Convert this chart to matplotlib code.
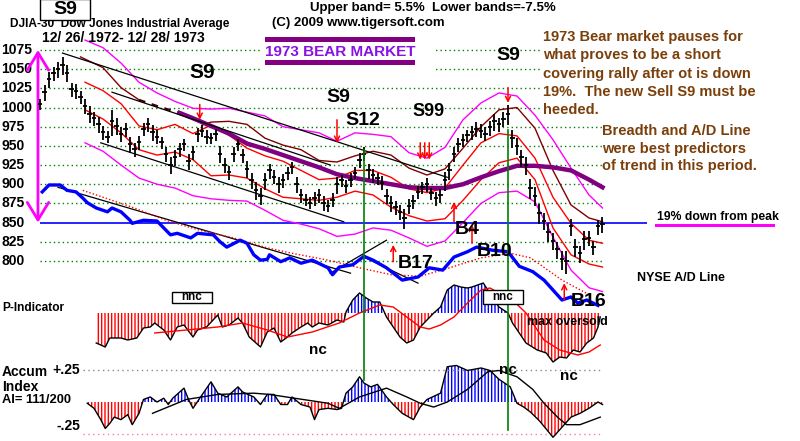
import numpy as np
import matplotlib.pyplot as plt
from matplotlib.patches import Rectangle
from matplotlib.lines import Line2D
from matplotlib.transforms import blended_transform_factory

plt.rcParams['font.family'] = ['Liberation Sans', 'DejaVu Sans']
plt.rcParams['hatch.linewidth'] = 1.0

# ---------------- data ----------------
# daily-ish price bars (every 2nd trading day), DJIA 12/26/1972 - 12/28/1973
bar_day = np.arange(0, 251, 2)
bar_close = [1005, 1020, 1037, 1045, 1050, 1055, 1045, 1024, 1022, 1014,
             1002, 992, 986, 978, 968, 962, 982, 976, 966, 972,
             952, 946, 955, 972, 978, 968, 962, 955, 940, 925,
             935, 946, 952, 930, 942, 965, 970, 962, 960, 965,
             940, 925, 916, 940, 952, 938, 920, 905, 892, 885,
             905, 918, 910, 900, 905, 915, 922, 900, 886, 880,
             876, 882, 886, 876, 872, 880, 900, 905, 898, 906,
             915, 932, 940, 918, 912, 908, 902, 885, 875, 870,
             864, 856, 872, 878, 890, 896, 900, 888, 882, 886,
             905, 918, 940, 952, 958, 964, 968, 972, 970, 966,
             974, 982, 978, 985, 992, 960, 950, 935, 925, 895,
             885, 862, 852, 838, 826, 815, 802, 800, 845, 818,
             810, 828, 830, 818, 845, 848]
bar_rng = [14, 20, 22, 18, 20, 24, 22, 18, 20, 18,
           20, 22, 18, 20, 18, 16, 34, 22, 20, 18,
           20, 18, 18, 16, 18, 20, 18, 16, 20, 22,
           20, 18, 16, 22, 18, 18, 16, 18, 14, 16,
           22, 20, 18, 20, 16, 18, 22, 20, 24, 22,
           22, 20, 18, 20, 18, 18, 16, 20, 18, 16,
           16, 18, 18, 20, 16, 18, 22, 16, 18, 18,
           16, 20, 18, 20, 18, 16, 18, 20, 20, 18,
           20, 26, 20, 18, 18, 16, 18, 16, 18, 18,
           24, 22, 20, 18, 18, 16, 18, 20, 18, 18,
           20, 22, 18, 20, 26, 24, 22, 22, 24, 26,
           24, 26, 22, 24, 22, 22, 24, 30, 22, 24,
           22, 24, 20, 18, 20, 22]

band_day = [20, 28, 36, 44, 52, 60, 68, 76, 84, 92, 100, 108, 116, 124, 132,
            140, 148, 156, 164, 172, 180, 188, 196, 204, 212, 220, 228, 236, 244, 250]
mag_up = [1088, 1078, 1058, 1033, 1019, 1008, 999, 998, 999, 994, 989, 975, 971, 967, 956,
          967, 965, 962, 941, 934, 948, 984, 1006, 1019, 1015, 990, 958, 921, 886, 869]
red_up = [1033, 1022, 1005, 976, 971, 978, 966, 977, 964, 947, 937, 930, 918, 906, 908,
          918, 918, 909, 894, 889, 895, 925, 954, 966, 963, 934, 883, 849, 827, 823]
red_lo = [997, 985, 967, 945, 938, 942, 932, 911, 912, 908, 894, 883, 881, 879, 883,
          891, 886, 870, 859, 852, 855, 879, 906, 928, 934, 906, 843, 808, 796, 792]
mag_lo = [954, 943, 925, 908, 900, 895, 885, 881, 879, 878, 866, 853, 848, 842, 832,
          835, 843, 840, 830, 819, 826, 850, 875, 889, 891, 877, 831, 788, 765, 760]

mar_day = [72, 76, 84, 92, 100, 108, 116, 124, 132, 140, 148, 156, 164, 172, 180,
           188, 196, 204, 212, 220, 228, 236, 244, 250]
mar_val = [977, 981, 982, 978, 960, 951, 945, 931, 929, 937, 943, 938, 921, 912, 920,
           947, 975, 997, 1000, 973, 918, 873, 856, 851]

ma_early_day = [18, 28, 36, 44]
ma_early = [1066, 1052, 1026, 1010]
ma_gap_day = [44, 53, 62]
ma_gap = [1010, 1001, 993]
ma_day = [62, 68, 76, 84, 92, 100, 108, 116, 124, 132, 140, 148, 156, 164, 172,
          180, 188, 196, 204, 212, 220, 228, 236, 244, 250]
ma_val = [993, 986, 976, 966, 953, 946, 938, 930, 922, 913, 908, 904, 900, 896, 895,
          895, 900, 909, 917, 924, 924, 922, 918, 906, 896]

# NYSE A/D line (plotted on the price scale) and its dotted average
ad_day = [1, 4, 9, 12, 16, 19, 21, 25, 30, 32, 36, 40, 41, 46, 52, 58, 61, 67, 70, 77,
          80, 83, 89, 92, 95, 98, 101, 102, 107, 111, 116, 121, 128, 130, 133, 139, 144, 148, 154, 161,
          168, 173, 179, 184, 190, 194, 201, 208, 213, 219, 224, 228, 232, 236, 239, 243, 248]
ad_val = [890, 899, 899, 892, 890, 882, 876, 869, 864, 869, 864, 853, 849, 853, 852, 834, 836, 830, 836, 834,
          825, 818, 827, 823, 808, 801, 802, 808, 799, 804, 797, 801, 791, 782, 792, 795, 806, 801, 791, 775,
          779, 791, 788, 805, 812, 818, 814, 812, 793, 786, 775, 762, 749, 753, 745, 749, 742]
ad_ma_day = [19, 41, 56, 71, 86, 101, 112, 128, 142, 156, 169, 182, 196, 209, 218, 232, 244]
ad_ma = [892, 870, 853, 840, 830, 817, 810, 801, 791, 782, 780, 791, 804, 810, 804, 775, 756]

trend_days = [(10, 181), (32, 129), (27, 135), (8, 138), (129, 154), (144, 168)]
trend_vals = [(1071, 909), (1020, 925), (954, 851), (896, 784), (784, 827), (805, 771)]

# signal arrows: day, tail value, tip value
sig_day = [71, 132, 169, 171, 173, 208, 157, 184, 192, 233]
sig_tail = [1004, 984, 954, 954, 954, 1026, 799, 851, 823, 749]
sig_tip = [984, 954, 932, 932, 932, 1006, 821, 877, 847, 771]
vline_day = [144, 208]

# P-Indicator
p_day = [25, 29, 31, 36, 39, 43, 46, 49, 51, 55, 58, 61, 64, 68, 70, 74, 79, 81, 84, 88,
         90, 93, 98, 101, 104, 107, 110, 112, 116, 119, 121, 124, 128, 132, 135, 136, 139, 142, 145, 148,
         151, 154, 157, 160, 163, 166, 169, 172, 175, 178, 181, 184, 187, 190, 192, 197, 201, 204, 208, 210,
         213, 216, 221, 225, 228, 231, 234, 237, 240, 243, 246, 248, 249]
p_val = [-300, -340, -250, -250, -270, -250, -150, -140, -100, -170, -270, -140, -120, -240, -170, -140, -20, -140, -120, -50,
         -100, -240, -340, -190, -150, -290, -240, -200, -140, -100, -140, -100, -120, -70, -90, 10, 130, 200, 150, 110,
         110, -40, -140, -240, -300, -270, -140, -70, 0, 60, 230, 280, 260, 250, 260, 300, 160, 60, 0, -100,
         -200, -300, -370, -400, -490, -440, -450, -370, -390, -300, -250, -140, -40]
p_ma_day = [51, 65, 79, 90, 101, 110, 121, 133, 142, 151, 157, 163, 169, 173, 178, 184, 190, 196, 200, 204,
            210, 216, 224, 231, 239, 244, 249]
p_ma = [-200, -170, -140, -100, -170, -240, -190, -100, 0, 80, 60, -40, -140, -160, -120, -40, 100, 230, 250, 200,
        130, 0, -270, -370, -420, -390, -320]

# Accumulation Index
a_day = [21, 24, 27, 29, 31, 33, 36, 39, 41, 44, 46, 49, 52, 55, 57, 59, 64, 66, 68, 71,
         76, 79, 83, 88, 90, 95, 98, 101, 104, 107, 110, 112, 116, 120, 122, 124, 128, 132, 134, 136,
         139, 142, 144, 147, 150, 154, 157, 161, 166, 169, 172, 178, 181, 185, 190, 196, 200, 204, 209, 212,
         215, 218, 222, 228, 232, 236, 240, 244, 248, 250]
a_val = [-0.01, -0.05, -0.14, -0.21, -0.17, -0.12, -0.14, -0.10, -0.18, -0.09, 0.02, 0.04, 0.0, 0.03, -0.02, 0.03, 0.11, 0.02, -0.05, 0.03,
         0.16, 0.07, 0.04, 0.12, 0.08, 0.04, -0.02, 0.06, 0.06, -0.02, -0.02, 0.04, -0.02, -0.04, -0.14, -0.06, -0.05, -0.06, -0.05, 0.07,
         0.12, 0.20, 0.15, 0.12, 0.14, 0.04, -0.02, -0.09, -0.14, -0.04, 0.02, 0.07, 0.28, 0.29, 0.25, 0.27, 0.25, 0.18, 0.12, -0.01,
         -0.04, -0.08, -0.15, -0.28, -0.20, -0.12, -0.09, -0.05, 0.0, -0.02]
a_ma_day = [50, 65, 79, 95, 102, 128, 133, 142, 154, 163, 169, 175, 181, 190, 199, 204, 212, 219, 224, 230, 234, 240, 249]
a_ma = [-0.09, 0.02, 0.06, 0.07, 0.06, -0.01, -0.05, 0.04, 0.11, 0.04, -0.01, -0.04, 0.0, 0.10, 0.24, 0.25, 0.20, 0.10, -0.01, -0.12, -0.18, -0.18, -0.12]

price_ticks = [1075, 1050, 1025, 1000, 975, 950, 925, 900, 875, 850, 825, 800]

# ---------------- figure ----------------
W, H = 800, 441
fig = plt.figure(figsize=(8, 4.41), dpi=100)


def fx(px):
    return px / W


def fy(py):
    return 1 - py / H


def txt(px, py, s, size=10, color='black', ha='left', weight='bold', z=3):
    fig.text(fx(px), fy(py), s, fontsize=size, color=color, ha=ha, va='center',
             fontweight=weight, zorder=z)


def rect(x0, y0, x1, y1, fc, ec='none', lw=1, z=1):
    fig.add_artist(Rectangle((fx(x0), fy(y1)), (x1 - x0) / W, (y1 - y0) / H,
                             transform=fig.transFigure, fc=fc, ec=ec, lw=lw, zorder=z))


xl = (-17.78, 337.78)

# price panel
ax = fig.add_axes([0, fy(310), 1, 310 / H])
ax.set_xlim(*xl)
ax.set_ylim(736.0, 1140.2)
ax.axis('off')

for lev in price_ticks:
    ax.text(-17.3, lev, str(lev), fontsize=10, fontweight='bold', va='center', ha='left')
    if lev == 850:
        continue
    ax.hlines(lev, 0, 223 if lev >= 1000 else 250, colors='#008000', lw=1, linestyles=(0, (1, 2.2)))
ax.hlines(850, 0, 270, colors='blue', lw=1.2)

ax.annotate('', xy=(-0.9, 1075), xytext=(-0.9, 850),
            arrowprops=dict(arrowstyle='<->,head_length=0.9,head_width=0.55', color='#ff00ff',
                            lw=2, shrinkA=0, shrinkB=0, mutation_scale=14))

close = np.array(bar_close, dtype=float)
rng = np.array(bar_rng, dtype=float)
ax.vlines(bar_day, close - rng * 0.55, close + rng * 0.45, color='black', lw=1.3, zorder=4)
ax.hlines(close, bar_day - 0.9, bar_day + 0.9, color='black', lw=1.3, zorder=4)

ax.plot(band_day, mag_up, color='#ff00ff', lw=1)
ax.plot(band_day, mag_lo, color='#ff00ff', lw=1)
ax.plot(band_day, red_up, color='red', lw=1)
ax.plot(band_day, red_lo, color='red', lw=1)
ax.plot(mar_day, mar_val, color='#800000', lw=1)
ax.plot(ma_early_day, ma_early, color='#800000', lw=1)
ax.plot(ma_gap_day, ma_gap, color='#400000', lw=1.6, ls=(0, (3, 3)))
ax.plot(ma_day, ma_val, color='#800080', lw=3.2)

for (d0, d1), (v0, v1) in zip(trend_days, trend_vals):
    ax.plot([d0, d1], [v0, v1], color='black', lw=0.9)

ax.plot(ad_ma_day, ad_ma, color='red', lw=1, ls=(0, (1, 1.5)))
ax.plot(ad_day, ad_val, color='blue', lw=2.4)

for d, t, h in zip(sig_day, sig_tail, sig_tip):
    ax.annotate('', xy=(d, h), xytext=(d, t),
                arrowprops=dict(arrowstyle='->', color='red', lw=1.1, shrinkA=0, shrinkB=0,
                                mutation_scale=9))

# P-Indicator panel
axp = fig.add_axes([0, fy(370), 1, 100 / H])
axp.set_xlim(*xl)
axp.set_ylim(-570, 430)
axp.axis('off')
pd_ = np.array(p_day, dtype=float)
pv = np.array(p_val, dtype=float)
axp.fill_between(pd_, 0, pv, where=pv <= 0, interpolate=True, facecolor='none',
                 edgecolor='red', hatch='|||||', lw=0)
axp.fill_between(pd_, 0, pv, where=pv >= 0, interpolate=True, facecolor='none',
                 edgecolor='blue', hatch='|||||', lw=0)
axp.plot(pd_, pv, color='black', lw=1)
axp.plot(p_ma_day, p_ma, color='red', lw=1)

# Accumulation index panel
axa = fig.add_axes([0, 0, 1, 101 / H])
axa.set_xlim(*xl)
axa.set_ylim(-0.3095, 0.492)
axa.axis('off')
axa.hlines(0.25, 19, 249, colors='#888888', lw=1, linestyles=(0, (1, 2.5)))
axa.hlines(-0.25, 19, 249, colors='#ff7799', lw=1, linestyles=(0, (1, 2.5)))
ad_ = np.array(a_day, dtype=float)
av = np.array(a_val)
axa.fill_between(ad_, 0, av, where=av <= 0, interpolate=True, facecolor='none',
                 edgecolor='red', hatch='|||||', lw=0)
axa.fill_between(ad_, 0, av, where=av >= 0, interpolate=True, facecolor='none',
                 edgecolor='blue', hatch='|||||', lw=0)
axa.plot(ad_, av, color='black', lw=1)
axa.plot(a_ma_day, a_ma, color='black', lw=1)

# green signal verticals spanning the panels
bt = blended_transform_factory(ax.transData, fig.transFigure)
for d, (y0, y1) in zip(vline_day, [(150, 380), (130, 430)]):
    fig.add_artist(Line2D([d, d], [fy(y0), fy(y1)], transform=bt, color='#008000', lw=1.2, zorder=2))

# ---------------- boxes and text ----------------
txt(10, 24, 'DJIA-30  Dow Jones Industrial Average', size=8.6)
rect(40, -1, 90, 20, 'white', 'black', 1, z=4)
txt(65, 10, 'S9', size=14, ha='center', z=5)
txt(42, 38, '12/ 26/ 1972- 12/ 28/ 1973', size=10)

txt(310, 8, 'Upper band= 5.5%', size=9.5)
txt(432, 8, 'Lower bands=-7.5%', size=9.5)
txt(272, 23, '(C) 2009 www.tigersoft.com', size=9.5)

rect(262, 30, 433, 72, 'white')
rect(265, 37, 415, 42, '#800080')
rect(265, 60, 415, 65, '#800080')
txt(340, 52, '1973 BEAR MARKET', size=11, color='#8a10e8', ha='center')

brown = '#7a3f0a'
for py, s in zip([37, 55, 74, 92, 110],
                 ['1973 Bear market pauses for', 'what proves to be a short',
                  'covering rally after ot is down', '19%.  The new Sell S9 must be', 'heeded.']):
    txt(543, py, s, size=10.5, color=brown)
for py, s in zip([131, 149, 166],
                 ['Breadth and A/D Line', 'were best predictors', 'of trend in this period.']):
    txt(602, py, s, size=10.5, color=brown)

txt(657, 217, '19% down from peak', size=8.8)
rect(655, 224, 775, 226.5, '#ff00ff')
txt(637, 278, 'NYSE A/D Line', size=9)

# signal labels
txt(202, 72, 'S9', size=15, ha='center')
txt(338, 97, 'S9', size=14, ha='center')
txt(363, 120, 'S12', size=14, ha='center')
txt(412, 111, 'S99', size=13)
txt(508, 55, 'S9', size=14, ha='center')
txt(467, 230, 'B4', size=14, ha='center')
txt(495, 251, 'B10', size=14, ha='center')
txt(416, 264, 'B17', size=14, ha='center')
txt(589, 302, 'B16', size=14, ha='center')

# indicator labels
txt(2, 308, 'P-Indicator', size=8.6)
rect(172, 292, 212, 303, 'white', 'black', 1, z=4)
txt(192, 297.5, 'nnc', size=8.5, ha='center', z=5)
rect(483, 290, 523, 304, 'white', 'black', 1, z=4)
txt(503, 297, 'nnc', size=8.5, ha='center', z=5)
txt(318, 350, 'nc', size=11, ha='center')
txt(527, 322, 'max oversold', size=9)
txt(569, 376, 'nc', size=11, ha='center')
txt(508, 370, 'nc', size=11, ha='center')

txt(2, 372, 'Accum', size=10)
txt(2, 387, 'Index', size=10)
txt(2, 400, 'AI= 111/200', size=9.3)
txt(80, 370, '+.25', size=10, ha='right')
txt(80, 426, '-.25', size=10, ha='right')

fig.savefig('out.png', dpi=100, facecolor='white')
